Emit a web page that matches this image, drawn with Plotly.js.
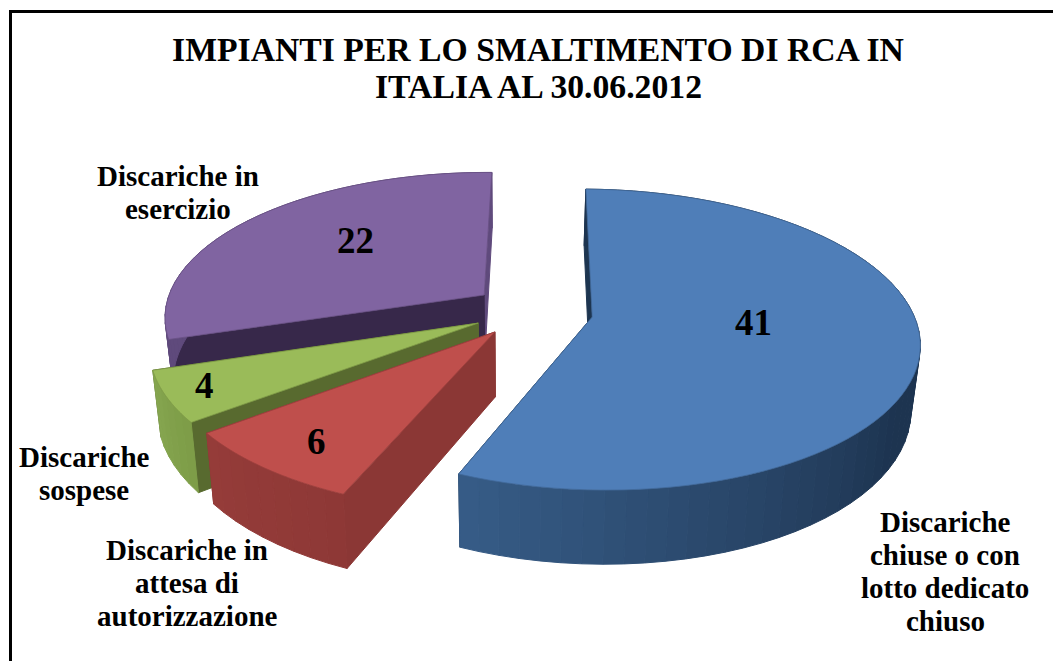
<!DOCTYPE html>
<html>
<head>
<meta charset="utf-8">
<script src="https://cdn.plot.ly/plotly-3.0.1.min.js"></script>
<style>html,body{margin:0;padding:0;background:#fff}#chart{width:1053px;height:661px}</style>
</head>
<body>
<div id="chart"></div>
<script>
// ---- data ----
const categories = [
  "Discariche<br>chiuse o con<br>lotto dedicato<br>chiuso",
  "Discariche in<br>attesa di<br>autorizzazione",
  "Discariche<br>sospese",
  "Discariche in<br>esercizio"
];
const values = [41, 6, 4, 22];
const titleLines = ["IMPIANTI PER LO SMALTIMENTO DI RCA IN", "ITALIA AL 30.06.2012"];

// ---- style ----
const topColors   = ["#4f7eb8", "#bf4f4c", "#9abb59", "#8064a1"];
const edgeColors  = ["#41699a", "#9c403d", "#7f9a48", "#695285"];
const radialStart = ["#1d3550", "#8b3735", "#586a2f", "#37284a"];
const radialEnd   = ["#1d3550", "#8b3735", "#586a2f", "#5f4a7c"];
const arcFrom     = ["#1d3450", "#8e3836", "#7d9c47", "#5f4a7c"];
const arcTo       = ["#375c87", "#953c39", "#86a650", "#5f4a7c"];
const arcShadeStart = [0.6, 0, 0, 0];
const labelCentre = [945, 187, 84, 178];
const labelFirstY = [522, 550, 457, 176];
const labelLineGap = 33;
const numberAt = [[753, 322], [316, 441], [204, 385], [355, 240]];
const TEXT_FONT = "Liberation Serif";

// ---- perspective view of the pie ----
const view = {cx: 510, cy: 310, A: 320, B: 145, k: 0.149, scaleX: 0.977, scaleY: 1.058, drop: 63.7, turn: 0.9 * Math.PI / 180};
const explodeU = [0.255, -0.046, -0.098, -0.082];
const explodeV = [-0.048, -0.148, -0.089, 0.105];

function topPt(u, v) {
  const w = 1 + view.k * v;
  return [view.cx + view.A * u / w, view.cy - view.B * v / w];
}
function lowPt(p) {
  return [view.cx + view.scaleX * (p[0] - view.cx),
          view.cy + view.scaleY * (p[1] - view.cy) + view.drop];
}
function hex2rgb(h) { return [1, 3, 5].map(i => parseInt(h.substr(i, 2), 16)); }
function mix(a, b, t) {
  const A = hex2rgb(a), B = hex2rgb(b);
  return "rgb(" + A.map((c, i) => Math.round(c + (B[i] - c) * t)).join(",") + ")";
}
function poly(pts, fill, line, lw) {
  return {
    type: "scatter", mode: "lines", fill: "toself", fillcolor: fill,
    x: pts.map(p => p[0]).concat([pts[0][0]]),
    y: pts.map(p => p[1]).concat([pts[0][1]]),
    line: {color: line || fill, width: lw === undefined ? 1 : lw, simplify: false},
    hoverinfo: "skip", showlegend: false
  };
}

const total = values.reduce((a, b) => a + b, 0);
const sliceAngles = [];
let acc = 0;
values.forEach(val => {
  sliceAngles.push([acc / total * 2 * Math.PI + view.turn, (acc + val) / total * 2 * Math.PI + view.turn]);
  acc += val;
});

function buildSlice(i) {
  const [a0, a1] = sliceAngles[i];
  const ou = explodeU[i], ov = explodeV[i];
  const at = a => topPt(ou + Math.sin(a), ov + Math.cos(a));
  const apex = topPt(ou, ov);
  const out = [];
  const p0 = at(a0), p1 = at(a1);
  out.push(poly([apex, p1, lowPt(p1), lowPt(apex)], radialEnd[i]));
  out.push(poly([apex, p0, lowPt(p0), lowPt(apex)], radialStart[i]));
  const steps = Math.max(6, Math.round((a1 - a0) / (2 * Math.PI) * 110));
  for (let s = 0; s < steps; s++) {
    const b0 = a0 + (a1 - a0) * s / steps, b1 = a0 + (a1 - a0) * (s + 1) / steps;
    const q0 = at(b0), q1 = at(b1);
    const f = (s + 0.5) / steps;
    const t = Math.max(0, (f - arcShadeStart[i]) / (1 - arcShadeStart[i]));
    out.push(poly([q0, q1, lowPt(q1), lowPt(q0)], mix(arcFrom[i], arcTo[i], t)));
  }
  const face = [apex];
  for (let s = 0; s <= 80; s++) face.push(at(a0 + (a1 - a0) * s / 80));
  out.push(poly(face, topColors[i], edgeColors[i], 0.8));
  return out;
}

// painter's order: back slice first, the big slice last
let traces = [];
[3, 2, 1, 0].forEach(i => { traces = traces.concat(buildSlice(i)); });

const annotations = [];
function textAt(x, y, text, size) {
  annotations.push({x: x, y: y, xref: "x", yref: "y", text: "<b>" + text + "</b>",
    showarrow: false, align: "center", xanchor: "center", yanchor: "middle",
    font: {family: TEXT_FONT, size: size, color: "#000"}});
}
categories.forEach((c, i) => {
  c.split("<br>").forEach((line, n) => textAt(labelCentre[i], labelFirstY[i] + n * labelLineGap, line, 29));
  textAt(numberAt[i][0], numberAt[i][1], String(values[i]), 37);
});
textAt(538, 86, titleLines[1], 33.7);

const layout = {
  width: 1053, height: 661,
  margin: {l: 0, r: 0, t: 0, b: 0},
  paper_bgcolor: "#fff", plot_bgcolor: "#fff",
  showlegend: false,
  title: {text: "<b>" + titleLines[0] + "</b>", x: 538 / 1053, xanchor: "center", y: 1 - 49 / 661, yanchor: "middle",
          font: {family: TEXT_FONT, size: 33.7, color: "#000"}},
  xaxis: {range: [0, 1053], visible: false, fixedrange: true},
  yaxis: {range: [661, 0], visible: false, fixedrange: true},
  annotations: annotations,
  shapes: [
    {type: "line", xref: "x", yref: "y", x0: 10.5, x1: 1053, y0: 11.5, y1: 11.5, line: {color: "#000", width: 3}},
    {type: "line", xref: "x", yref: "y", x0: 10.5, x1: 10.5, y0: 10, y1: 661, line: {color: "#000", width: 3}}
  ]
};
Plotly.newPlot("chart", traces, layout, {displayModeBar: false, responsive: false});
</script>
</body>
</html>
